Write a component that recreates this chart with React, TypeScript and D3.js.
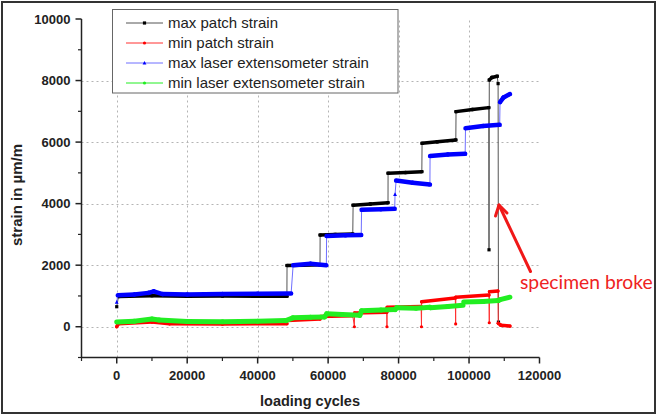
import React from "react";
import * as d3 from "d3";

type Pt = [number, number];

// loading cycles vs strain (µm/m)
const maxPatch: Pt[] = [
  [0, 650], [500, 980], [10000, 1010], [20000, 990], [30000, 1000], [40000, 990], [48300, 990],
  [48340, 1990], [53000, 2000], [57700, 2010],
  [57730, 2980], [62000, 3000], [67000, 3010],
  [67090, 3950], [72000, 3990], [77000, 4030],
  [77020, 4990], [82000, 5010], [86600, 5040],
  [86670, 5960], [91000, 6010], [96250, 6070],
  [96310, 6990], [101000, 7060], [105600, 7120],
  [105670, 2500],
  [105750, 8020], [106500, 8100], [108000, 8140], [108250, 7900],
  [108350, 150],
];

const minPatch: Pt[] = [
  [0, 0], [500, 100], [10000, 150], [15000, 100], [30000, 90], [48300, 100],
  [48400, 200], [57700, 250],
  [57750, 330], [67000, 360], [67460, 0],
  [67500, 450], [76650, 470], [76700, 0],
  [76750, 630], [86400, 660], [86500, 0],
  [86550, 810], [96100, 930], [96200, 90],
  [96250, 960], [105650, 1030], [105750, 130],
  [105800, 1140], [108200, 1160], [108300, 110],
  [109000, 50], [111600, 20],
];

const maxLaser: Pt[] = [
  [0, 800], [300, 1020], [5000, 1050], [9000, 1100], [10500, 1150], [13000, 1060], [20000, 1050],
  [30000, 1060], [40000, 1070], [49500, 1080],
  [50070, 2000], [55000, 2050], [59500, 2000],
  [59570, 2950], [65000, 2970], [69400, 2980],
  [69500, 3800], [75000, 3820], [78900, 3830],
  [79000, 4300], [79300, 4750], [84000, 4680], [88900, 4620],
  [88940, 5550], [94000, 5600], [98900, 5620],
  [99000, 6450], [104000, 6520], [108700, 6560],
  [108800, 7300], [109800, 7450], [111600, 7560],
];

const minLaser: Pt[] = [
  [0, 150], [5000, 180], [10000, 250], [12000, 220], [20000, 170], [30000, 160], [40000, 180], [48000, 200],
  [50000, 290], [55000, 310], [59000, 320],
  [59600, 420], [64000, 400], [69000, 370],
  [69500, 520], [75000, 540], [79000, 560],
  [79500, 620], [85000, 600], [88900, 630],
  [89000, 620], [94000, 660], [98300, 700],
  [98500, 800], [104000, 820], [108300, 850],
  [108800, 880], [111600, 960],
];

const seriesNames = ["max patch strain", "min patch strain", "max laser extensometer strain", "min laser extensometer strain"];
const seriesColors = ["#000000", "#ff0000", "#0000ff", "#22ee22"];
const connectorColors = ["#555555", "#ff3030", "#6f6fff", "#22ee22"];
const seriesMarkers = ["square", "circle", "triangle", "circle"];
const seriesData = [maxPatch, minPatch, maxLaser, minLaser];

const xLabelTicks = [0, 20000, 40000, 60000, 80000, 100000, 120000];
const xMinorTicks = [-10000, 10000, 30000, 50000, 70000, 90000, 110000];
const yLabelTicks = [0, 2000, 4000, 6000, 8000, 10000];
const yMinorTicks = [-1000, 1000, 3000, 5000, 7000, 9000];
const xGrid = [0, 20000, 40000, 60000, 80000, 100000];
const yGrid = [0, 2000, 4000, 6000, 8000];

const W = 658;
const H = 417;

function Marker({ kind, x, y, color, s }: { kind: string; x: number; y: number; color: string; s: number }) {
  if (kind === "square") return <rect x={x - s} y={y - s} width={2 * s} height={2 * s} fill={color} />;
  if (kind === "triangle")
    return <path d={`M${x},${y - s * 1.3}L${x + s * 1.2},${y + s}L${x - s * 1.2},${y + s}Z`} fill={color} />;
  return <circle cx={x} cy={y} r={s} fill={color} />;
}

export default function App() {
  const x = d3.scaleLinear().domain([-10000, 120000]).range([81.5, 539.5]);
  const y = d3.scaleLinear().domain([-1000, 10000]).range([357.5, 19]);
  const line = d3.line<Pt>().x((d) => x(d[0])).y((d) => y(d[1]));
  const font = "'Liberation Sans', Arial, sans-serif";
  const thickW = [3.5, 3.5, 4.5, 5];

  return (
    <svg width={W} height={H} style={{ position: "absolute", left: 0, top: 0, background: "#fff" }} fontFamily={font}>
      <rect x={2} y={2} width={W - 5} height={H - 6} fill="#fff" stroke="#333" strokeWidth={2} />

      {/* grid */}
      <g stroke="#b4b4b4" strokeWidth={1} strokeDasharray="2,3">
        {yGrid.map((v) => (
          <line key={"gy" + v} x1={x(-10000)} x2={x(120000)} y1={Math.round(y(v)) + 0.5} y2={Math.round(y(v)) + 0.5} />
        ))}
        {xGrid.map((v) => (
          <line key={"gx" + v} x1={Math.round(x(v)) + 0.5} x2={Math.round(x(v)) + 0.5} y1={y(-1000)} y2={y(10000)} />
        ))}
      </g>

      {/* series */}
      {seriesData.map((data, i) => {
        const segs = d3.pairs(data).filter(([a, b]) => {
          const dx = Math.abs(x(b[0]) - x(a[0]));
          const dy = Math.abs(y(b[1]) - y(a[1]));
          return dy < 3 * dx;
        });
        return (
          <g key={"s" + i}>
            <path d={line(data) || ""} fill="none" stroke={connectorColors[i]} strokeWidth={1} />
            {segs.map(([a, b], j) => (
              <line
                key={j}
                x1={x(a[0])}
                y1={y(a[1])}
                x2={x(b[0])}
                y2={y(b[1])}
                stroke={seriesColors[i]}
                strokeWidth={thickW[i]}
                strokeLinecap="round"
              />
            ))}
            {data.map((d, j) => (
              <Marker key={"m" + j} kind={seriesMarkers[i]} x={x(d[0])} y={y(d[1])} color={seriesColors[i]} s={1.6} />
            ))}
          </g>
        );
      })}

      {/* axes */}
      <g stroke="#222" fill="none">
        <line x1={x(-10000)} x2={x(-10000)} y1={y(10000)} y2={y(-1000) + 0.5} strokeWidth={1.5} />
        <line x1={x(-10000) - 0.5} x2={x(120000)} y1={y(-1000)} y2={y(-1000)} strokeWidth={1.5} />
        {yLabelTicks.map((v) => (
          <line key={"yt" + v} x1={x(-10000) - 6} x2={x(-10000)} y1={y(v)} y2={y(v)} strokeWidth={1.5} />
        ))}
        {yMinorTicks.map((v) => (
          <line key={"ym" + v} x1={x(-10000) - 3.5} x2={x(-10000)} y1={y(v)} y2={y(v)} strokeWidth={1.2} />
        ))}
        {xLabelTicks.map((v) => (
          <line key={"xt" + v} x1={x(v)} x2={x(v)} y1={y(-1000)} y2={y(-1000) + 6} strokeWidth={1.5} />
        ))}
        {xMinorTicks.map((v) => (
          <line key={"xm" + v} x1={x(v)} x2={x(v)} y1={y(-1000)} y2={y(-1000) + 3.5} strokeWidth={1.2} />
        ))}
      </g>
      <g fontSize={13} fontWeight="bold" fill="#222">
        {yLabelTicks.map((v) => (
          <text key={"yl" + v} x={x(-10000) - 11} y={y(v) + 4.5} textAnchor="end">
            {v}
          </text>
        ))}
        {xLabelTicks.map((v) => (
          <text key={"xl" + v} x={x(v)} y={380} textAnchor="middle">
            {v}
          </text>
        ))}
      </g>
      <text x={310} y={406} textAnchor="middle" fontSize={14.5} fontWeight="bold" fill="#222">
        loading cycles
      </text>
      <text transform="translate(22,195) rotate(-90)" textAnchor="middle" fontSize={15} fontWeight="bold" fill="#222">
        strain in µm/m
      </text>

      {/* legend */}
      <rect x={112.5} y={9.5} width={285.5} height={83.5} fill="#fff" stroke="#666" strokeWidth={1} />
      {seriesNames.map((n, i) => {
        const ly = 23 + i * 20;
        return (
          <g key={"lg" + i}>
            <line x1={126} x2={163} y1={ly} y2={ly} stroke={connectorColors[i]} strokeWidth={1} />
            <Marker kind={seriesMarkers[i]} x={144.5} y={ly} color={seriesColors[i]} s={1.6} />
            <text x={168} y={ly + 5} fontSize={15} fill="#222">
              {n}
            </text>
          </g>
        );
      })}

      {/* annotation */}
      <g stroke="#f01818" strokeWidth={3} fill="none" strokeLinecap="round">
        <line x1={530.5} y1={271.5} x2={499} y2={205} />
        <polyline points="495.5,216 499,205 507,213" strokeLinejoin="round" />
      </g>
      <text x={520} y={289} fontSize={19.3} fill="#ee2222" fontFamily="Lato, 'Open Sans', sans-serif">
        specimen broke
      </text>
    </svg>
  );
}
